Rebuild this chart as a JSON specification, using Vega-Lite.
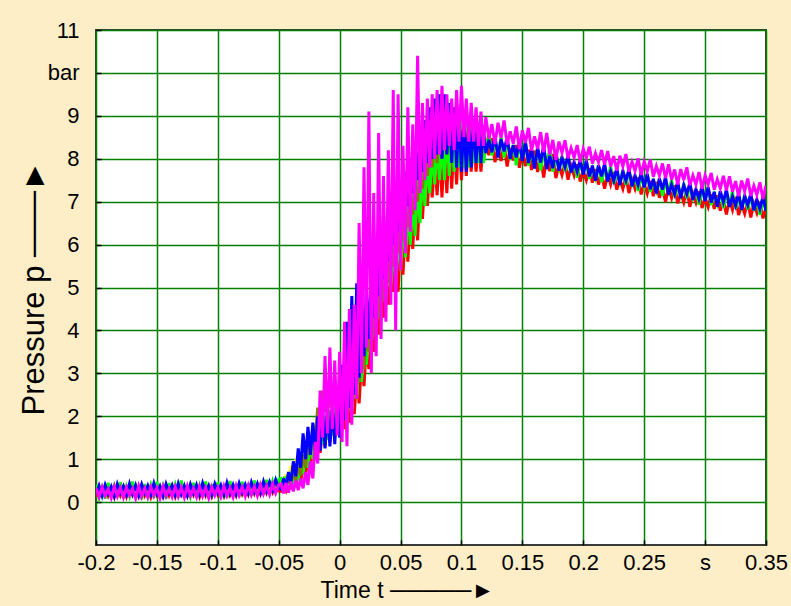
{
  "$schema": "https://vega.github.io/schema/vega-lite/v6.json",
  "width": 670,
  "height": 515,
  "autosize": {"type": "none"},
  "padding": {"left": 96, "top": 30, "right": 25, "bottom": 61},
  "background": "#FDEEC8",
  "data": {"values": [
    {"t":-0.2,"m":0.32,"b":0.18,"g":0.40,"r":0.12},
    {"t":-0.1975,"m":0.12,"b":0.38,"g":0.10,"r":0.34},
    {"t":-0.195,"m":0.35,"b":0.15,"g":0.33,"r":0.18},
    {"t":-0.1925,"m":0.15,"b":0.40,"g":0.08,"r":0.36},
    {"t":-0.19,"m":0.30,"b":0.20,"g":0.45,"r":0.15},
    {"t":-0.1875,"m":0.10,"b":0.36,"g":0.15,"r":0.33},
    {"t":-0.185,"m":0.36,"b":0.14,"g":0.38,"r":0.12},
    {"t":-0.1825,"m":0.14,"b":0.42,"g":0.12,"r":0.38},
    {"t":-0.18,"m":0.33,"b":0.22,"g":0.46,"r":0.16},
    {"t":-0.1775,"m":0.11,"b":0.37,"g":0.09,"r":0.35},
    {"t":-0.175,"m":0.34,"b":0.17,"g":0.36,"r":0.13},
    {"t":-0.1725,"m":0.16,"b":0.43,"g":0.14,"r":0.37},
    {"t":-0.17,"m":0.31,"b":0.19,"g":0.48,"r":0.17},
    {"t":-0.1675,"m":0.09,"b":0.39,"g":0.11,"r":0.32},
    {"t":-0.165,"m":0.37,"b":0.16,"g":0.35,"r":0.14},
    {"t":-0.1625,"m":0.13,"b":0.41,"g":0.07,"r":0.39},
    {"t":-0.16,"m":0.32,"b":0.21,"g":0.42,"r":0.16},
    {"t":-0.1575,"m":0.12,"b":0.38,"g":0.13,"r":0.34},
    {"t":-0.155,"m":0.35,"b":0.18,"g":0.39,"r":0.12},
    {"t":-0.1525,"m":0.15,"b":0.44,"g":0.10,"r":0.36},
    {"t":-0.15,"m":0.33,"b":0.20,"g":0.47,"r":0.17},
    {"t":-0.1475,"m":0.10,"b":0.37,"g":0.12,"r":0.33},
    {"t":-0.145,"m":0.36,"b":0.15,"g":0.37,"r":0.14},
    {"t":-0.1425,"m":0.14,"b":0.42,"g":0.08,"r":0.38},
    {"t":-0.14,"m":0.31,"b":0.22,"g":0.44,"r":0.16},
    {"t":-0.1375,"m":0.12,"b":0.39,"g":0.14,"r":0.35},
    {"t":-0.135,"m":0.35,"b":0.17,"g":0.40,"r":0.13},
    {"t":-0.1325,"m":0.13,"b":0.43,"g":0.11,"r":0.37},
    {"t":-0.13,"m":0.34,"b":0.19,"g":0.50,"r":0.18},
    {"t":-0.1275,"m":0.11,"b":0.38,"g":0.09,"r":0.33},
    {"t":-0.125,"m":0.37,"b":0.16,"g":0.36,"r":0.15},
    {"t":-0.1225,"m":0.15,"b":0.41,"g":0.13,"r":0.39},
    {"t":-0.12,"m":0.32,"b":0.21,"g":0.45,"r":0.17},
    {"t":-0.1175,"m":0.12,"b":0.40,"g":0.10,"r":0.34},
    {"t":-0.115,"m":0.36,"b":0.18,"g":0.38,"r":0.13},
    {"t":-0.1125,"m":0.14,"b":0.44,"g":0.12,"r":0.37},
    {"t":-0.11,"m":0.33,"b":0.20,"g":0.48,"r":0.16},
    {"t":-0.1075,"m":0.10,"b":0.38,"g":0.08,"r":0.35},
    {"t":-0.105,"m":0.35,"b":0.17,"g":0.41,"r":0.14},
    {"t":-0.1025,"m":0.16,"b":0.42,"g":0.14,"r":0.38},
    {"t":-0.1,"m":0.34,"b":0.22,"g":0.46,"r":0.18},
    {"t":-0.0975,"m":0.13,"b":0.39,"g":0.11,"r":0.34},
    {"t":-0.095,"m":0.37,"b":0.18,"g":0.39,"r":0.15},
    {"t":-0.0925,"m":0.15,"b":0.45,"g":0.10,"r":0.39},
    {"t":-0.09,"m":0.33,"b":0.21,"g":0.49,"r":0.17},
    {"t":-0.0875,"m":0.12,"b":0.40,"g":0.13,"r":0.35},
    {"t":-0.085,"m":0.38,"b":0.19,"g":0.42,"r":0.16},
    {"t":-0.0825,"m":0.16,"b":0.44,"g":0.12,"r":0.40},
    {"t":-0.08,"m":0.35,"b":0.23,"g":0.47,"r":0.19},
    {"t":-0.0775,"m":0.14,"b":0.41,"g":0.15,"r":0.36},
    {"t":-0.075,"m":0.39,"b":0.21,"g":0.43,"r":0.18},
    {"t":-0.0725,"m":0.17,"b":0.46,"g":0.14,"r":0.41},
    {"t":-0.07,"m":0.36,"b":0.24,"g":0.50,"r":0.20},
    {"t":-0.0675,"m":0.15,"b":0.43,"g":0.16,"r":0.38},
    {"t":-0.065,"m":0.40,"b":0.22,"g":0.45,"r":0.19},
    {"t":-0.0625,"m":0.19,"b":0.48,"g":0.17,"r":0.42},
    {"t":-0.06,"m":0.38,"b":0.26,"g":0.52,"r":0.22},
    {"t":-0.0575,"m":0.18,"b":0.47,"g":0.19,"r":0.40},
    {"t":-0.055,"m":0.42,"b":0.28,"g":0.48,"r":0.23},
    {"t":-0.0525,"m":0.21,"b":0.52,"g":0.22,"r":0.44},
    {"t":-0.05,"m":0.40,"b":0.32,"g":0.53,"r":0.26},
    {"t":-0.048,"m":0.42,"b":0.30,"g":0.55,"r":0.25,"y":0.45,"o":0.30},
    {"t":-0.046,"m":0.20,"b":0.55,"g":0.28,"r":0.45,"y":0.30,"o":0.50},
    {"t":-0.044,"m":0.45,"b":0.35,"g":0.60,"r":0.28,"y":0.65,"o":0.35},
    {"t":-0.042,"m":0.22,"b":0.70,"g":0.32,"r":0.50,"y":0.40,"o":0.60},
    {"t":-0.040,"m":0.48,"b":0.45,"g":0.70,"r":0.30,"y":0.85,"o":0.40},
    {"t":-0.038,"m":0.25,"b":0.95,"g":0.40,"r":0.60,"y":0.55,"o":0.75},
    {"t":-0.036,"m":0.50,"b":0.60,"g":0.85,"r":0.38,"y":1.00,"o":0.50},
    {"t":-0.034,"m":0.28,"b":1.25,"g":0.50,"r":0.72,"y":0.70,"o":0.90},
    {"t":-0.032,"m":0.55,"b":0.80,"g":1.00,"r":0.45,"y":1.15,"o":0.62},
    {"t":-0.030,"m":0.32,"b":1.60,"g":0.65,"r":0.90,"y":0.85,"o":1.10},
    {"t":-0.028,"m":0.70,"b":1.00,"g":1.20,"r":0.60,"y":1.30,"o":0.80},
    {"t":-0.026,"m":0.40,"b":1.75,"g":0.80,"r":1.10,"y":1.00,"o":1.40},
    {"t":-0.024,"m":0.95,"b":1.10,"g":1.45,"r":0.80,"y":1.50,"o":1.10},
    {"t":-0.022,"m":0.55,"b":1.85,"g":1.00,"r":1.30,"y":1.20,"o":1.80},
    {"t":-0.020,"m":1.40,"b":1.15,"g":1.70,"r":1.00,"y":1.65,"o":1.50},
    {"t":-0.018,"m":0.90,"b":2.00,"g":1.20,"r":1.50,"y":1.35,"o":2.20},
    {"t":-0.016,"m":2.60,"b":1.20,"g":1.85,"r":1.15,"y":1.80,"o":1.90},
    {"t":-0.014,"m":1.50,"b":2.10,"g":1.35,"r":1.70,"y":1.50,"o":2.60},
    {"t":-0.012,"m":3.40,"b":1.25,"g":2.00,"r":1.30,"y":1.95,"o":2.10},
    {"t":-0.010,"m":1.60,"b":2.20,"g":1.45,"r":1.85,"y":1.60,"o":2.80},
    {"t":-0.008,"m":3.60,"b":1.30,"g":2.15,"r":1.40,"y":2.05,"o":2.20},
    {"t":-0.006,"m":1.70,"b":2.25,"g":1.55,"r":2.00,"y":1.70,"o":2.70},
    {"t":-0.004,"m":3.30,"b":1.35,"g":2.25,"r":1.50,"y":2.10,"o":2.30},
    {"t":-0.002,"m":1.55,"b":2.40,"g":1.65,"r":2.10,"y":1.80,"o":2.60},
    {"t":0.000,"m":3.50,"b":1.50,"g":2.35,"r":1.60,"y":2.25,"o":2.20},
    {"t":0.002,"m":1.40,"b":3.20,"g":1.75,"r":2.20,"y":1.90,"o":2.50},
    {"t":0.004,"m":4.20,"b":1.90,"g":2.50,"r":1.70,"y":2.40,"o":2.10},
    {"t":0.006,"m":1.30,"b":4.20,"g":1.85,"r":2.35,"y":2.00,"o":2.60},
    {"t":0.008,"m":4.50,"b":2.20,"g":2.70,"r":1.85,"y":2.60,"o":2.30},
    {"t":0.010,"m":1.80,"b":4.80,"g":2.10,"r":2.60,"y":2.20,"o":2.90},
    {"t":0.012,"m":4.60,"b":2.50,"g":3.00,"r":2.05,"y":2.90,"o":2.50},
    {"t":0.014,"m":2.40,"b":5.10,"g":2.40,"r":2.90,"y":2.50,"o":3.20},
    {"t":0.016,"m":6.50,"b":2.90,"g":3.40,"r":2.30,"y":3.30,"o":2.80},
    {"t":0.018,"m":3.00,"b":4.90,"g":2.80,"r":3.30,"y":2.90,"o":3.60},
    {"t":0.020,"m":7.80,"b":3.40,"g":3.80,"r":2.70,"y":3.70,"o":3.10},
    {"t":0.022,"m":3.60,"b":5.00,"g":3.20,"r":3.70,"y":3.30,"o":4.00},
    {"t":0.024,"m":9.10,"b":3.80,"g":4.30,"r":3.10,"y":4.10,"o":3.50},
    {"t":0.026,"m":3.00,"b":5.30,"g":3.60,"r":4.10,"y":3.70,"o":4.40},
    {"t":0.028,"m":7.20,"b":4.30,"g":4.70,"r":3.50,"y":4.60,"o":3.90},
    {"t":0.030,"m":3.40,"b":5.80,"g":4.00,"r":4.50,"y":4.10,"o":4.80},
    {"t":0.032,"m":8.60,"b":4.80,"g":5.10,"r":3.90,"y":5.00,"o":4.30},
    {"t":0.034,"m":3.80,"b":6.20,"g":4.40,"r":4.90,"y":4.50,"o":5.20},
    {"t":0.036,"m":7.60,"b":5.20,"g":5.40,"r":4.30,"y":5.30,"o":4.70},
    {"t":0.038,"m":4.20,"b":6.50,"g":4.70,"r":5.20,"y":4.80,"o":5.60},
    {"t":0.040,"m":8.20,"b":5.60,"g":5.70,"r":4.60,"y":5.60,"o":5.10},
    {"t":0.042,"m":4.60,"b":6.80,"g":5.00,"r":5.50,"y":5.10,"o":5.90},
    {"t":0.044,"m":9.60,"b":6.00,"g":6.00,"r":4.90,"y":5.90,"o":5.50},
    {"t":0.046,"m":4.00,"b":7.10,"g":5.10,"r":5.80,"y":5.30,"o":6.20},
    {"t":0.048,"m":9.50,"b":6.30,"g":6.30,"r":4.90,"y":6.10,"o":5.80},
    {"t":0.050,"m":5.40,"b":7.40,"g":5.40,"r":6.10,"y":5.60,"o":6.50},
    {"t":0.052,"m":8.30,"b":6.60,"g":6.60,"r":5.30,"y":6.40,"o":6.10},
    {"t":0.054,"m":5.80,"b":7.70,"g":5.70,"r":6.40,"y":5.90,"o":6.80},
    {"t":0.056,"m":9.20,"b":6.90,"g":6.90,"r":5.60,"y":6.70,"o":6.40},
    {"t":0.058,"m":6.30,"b":8.00,"g":6.00,"r":6.70,"y":6.20,"o":7.10},
    {"t":0.060,"m":8.80,"b":7.20,"g":7.20,"r":5.90,"y":7.00,"o":6.70},
    {"t":0.062,"m":6.80,"b":8.30,"g":6.20,"r":7.00,"y":6.50,"o":7.40},
    {"t":0.064,"m":10.40,"b":7.50,"g":7.50,"r":6.10,"y":7.30,"o":7.00},
    {"t":0.066,"m":7.20,"b":8.60,"g":6.50,"r":7.30,"y":6.80,"o":7.70},
    {"t":0.068,"m":9.30,"b":7.70,"g":7.80,"r":6.60,"y":7.50,"o":7.30},
    {"t":0.070,"m":7.50,"b":8.90,"g":6.90,"r":7.60,"y":7.10,"o":8.00},
    {"t":0.072,"m":9.40,"b":7.90,"g":8.10,"r":6.90,"y":7.80,"o":7.60},
    {"t":0.074,"m":7.80,"b":9.20,"g":7.20,"r":7.80,"y":7.40,"o":8.20},
    {"t":0.076,"m":9.50,"b":8.00,"g":8.30,"r":7.10,"y":8.00,"o":7.80},
    {"t":0.078,"m":8.00,"b":9.40,"g":7.40,"r":8.00,"y":7.60,"o":8.40},
    {"t":0.080,"m":9.60,"b":8.10,"g":8.50,"r":7.15,"y":8.20,"o":7.90},
    {"t":0.082,"m":8.10,"b":9.50,"g":7.50,"r":8.20,"y":7.70,"o":8.60},
    {"t":0.084,"m":9.70,"b":8.00,"g":8.60,"r":7.10,"y":8.30,"o":8.00},
    {"t":0.086,"m":8.20,"b":9.50,"g":7.50,"r":8.30,"y":7.80,"o":8.70},
    {"t":0.088,"m":9.50,"b":8.10,"g":8.70,"r":7.20,"y":8.40,"o":8.10},
    {"t":0.090,"m":8.30,"b":9.30,"g":7.60,"r":8.40,"y":7.90,"o":8.80},
    {"t":0.092,"m":9.40,"b":7.90,"g":8.80,"r":7.30,"y":8.50,"o":8.20},
    {"t":0.094,"m":8.20,"b":9.20,"g":7.70,"r":8.50,"y":8.00,"o":8.90},
    {"t":0.096,"m":9.60,"b":7.80,"g":8.90,"r":7.40,"y":8.60,"o":8.30},
    {"t":0.098,"m":8.40,"b":9.10,"g":7.80,"r":8.60,"y":8.00,"o":8.90},
    {"t":0.100,"m":9.70,"b":7.70,"g":9.00,"r":7.50,"y":8.60,"o":8.30},
    {"t":0.102,"m":8.50,"b":8.90,"g":7.80,"r":8.60,"y":8.00,"o":8.80},
    {"t":0.104,"m":9.40,"b":7.70,"g":8.90,"r":7.60,"y":8.50,"o":8.20},
    {"t":0.106,"m":8.40,"b":8.80,"g":7.80,"r":8.60,"y":8.00,"o":8.80},
    {"t":0.108,"m":9.30,"b":7.80,"g":8.90,"r":7.70,"y":8.50,"o":8.20},
    {"t":0.110,"m":8.40,"b":8.90,"g":7.90,"r":8.50,"y":8.00,"o":8.70},
    {"t":0.112,"m":9.20,"b":7.90,"g":8.80,"r":7.70,"y":8.40,"o":8.10},
    {"t":0.114,"m":8.30,"b":8.80,"g":7.90,"r":8.50,"y":7.90,"o":8.60},
    {"t":0.116,"m":9.10,"b":7.90,"g":8.70,"r":7.70,"y":8.30,"o":8.10},
    {"t":0.118,"m":8.30,"b":8.70,"g":7.90,"r":8.40,"y":7.90,"o":8.50},
    {"t":0.12,"m":8.97,"b":8.13,"g":8.25,"r":8.43},
    {"t":0.1225,"m":8.47,"b":8.44,"g":8.61,"r":8.08},
    {"t":0.125,"m":8.81,"b":8.15,"g":8.08,"r":8.48},
    {"t":0.1275,"m":8.34,"b":8.55,"g":8.40,"r":7.92},
    {"t":0.13,"m":8.84,"b":8.03,"g":8.12,"r":8.24},
    {"t":0.1325,"m":8.49,"b":8.46,"g":8.50,"r":7.95},
    {"t":0.135,"m":8.89,"b":8.17,"g":8.03,"r":8.35},
    {"t":0.1375,"m":8.33,"b":8.52,"g":8.48,"r":7.82},
    {"t":0.14,"m":8.64,"b":8.00,"g":7.98,"r":8.25},
    {"t":0.1425,"m":8.35,"b":8.32,"g":8.32,"r":7.96},
    {"t":0.145,"m":8.75,"b":8.03,"g":7.85,"r":8.32},
    {"t":0.1475,"m":8.22,"b":8.42,"g":8.34,"r":7.79},
    {"t":0.15,"m":8.66,"b":7.95,"g":8.00,"r":8.12},
    {"t":0.1525,"m":8.37,"b":8.40,"g":8.40,"r":7.83},
    {"t":0.155,"m":8.72,"b":7.90,"g":7.84,"r":8.21},
    {"t":0.1575,"m":8.19,"b":8.24,"g":8.15,"r":7.74},
    {"t":0.16,"m":8.52,"b":7.77,"g":7.86,"r":8.19},
    {"t":0.1625,"m":8.23,"b":8.26,"g":8.26,"r":7.69},
    {"t":0.165,"m":8.62,"b":7.91,"g":7.73,"r":8.03},
    {"t":0.1675,"m":8.15,"b":8.31,"g":8.16,"r":7.56},
    {"t":0.17,"m":8.60,"b":7.76,"g":7.88,"r":8.06},
    {"t":0.1725,"m":8.10,"b":8.07,"g":8.23,"r":7.71},
    {"t":0.175,"m":8.44,"b":7.78,"g":7.70,"r":8.11},
    {"t":0.1775,"m":7.97,"b":8.18,"g":8.03,"r":7.55},
    {"t":0.18,"m":8.40,"b":7.72,"g":7.78,"r":7.84},
    {"t":0.1825,"m":8.14,"b":8.03,"g":8.06,"r":7.62},
    {"t":0.185,"m":8.43,"b":7.81,"g":7.71,"r":7.91},
    {"t":0.1875,"m":8.01,"b":8.07,"g":8.03,"r":7.51},
    {"t":0.19,"m":8.25,"b":7.68,"g":7.67,"r":7.83},
    {"t":0.1925,"m":8.03,"b":7.92,"g":7.91,"r":7.61},
    {"t":0.195,"m":8.32,"b":7.70,"g":7.56,"r":7.87},
    {"t":0.1975,"m":7.92,"b":7.98,"g":7.91,"r":7.47},
    {"t":0.2,"m":8.23,"b":7.63,"g":7.65,"r":7.71},
    {"t":0.2025,"m":8.02,"b":7.96,"g":7.95,"r":7.50},
    {"t":0.205,"m":8.28,"b":7.59,"g":7.53,"r":7.78},
    {"t":0.2075,"m":7.89,"b":7.84,"g":7.77,"r":7.44},
    {"t":0.21,"m":8.13,"b":7.49,"g":7.55,"r":7.76},
    {"t":0.2125,"m":7.92,"b":7.85,"g":7.85,"r":7.40},
    {"t":0.215,"m":8.20,"b":7.59,"g":7.45,"r":7.64},
    {"t":0.2175,"m":7.86,"b":7.89,"g":7.77,"r":7.30},
    {"t":0.22,"m":8.18,"b":7.47,"g":7.55,"r":7.65},
    {"t":0.2225,"m":7.82,"b":7.71,"g":7.82,"r":7.40},
    {"t":0.225,"m":8.06,"b":7.49,"g":7.42,"r":7.69},
    {"t":0.2275,"m":7.72,"b":7.79,"g":7.67,"r":7.28},
    {"t":0.23,"m":8.07,"b":7.39,"g":7.45,"r":7.51},
    {"t":0.2325,"m":7.82,"b":7.71,"g":7.74,"r":7.30},
    {"t":0.235,"m":8.11,"b":7.49,"g":7.39,"r":7.59},
    {"t":0.2375,"m":7.70,"b":7.76,"g":7.72,"r":7.20},
    {"t":0.24,"m":7.93,"b":7.36,"g":7.35,"r":7.51},
    {"t":0.2425,"m":7.72,"b":7.61,"g":7.60,"r":7.30},
    {"t":0.245,"m":8.01,"b":7.39,"g":7.25,"r":7.56},
    {"t":0.2475,"m":7.62,"b":7.68,"g":7.61,"r":7.17},
    {"t":0.25,"m":7.93,"b":7.33,"g":7.35,"r":7.41},
    {"t":0.2525,"m":7.71,"b":7.65,"g":7.64,"r":7.19},
    {"t":0.255,"m":7.98,"b":7.29,"g":7.23,"r":7.48},
    {"t":0.2575,"m":7.58,"b":7.53,"g":7.46,"r":7.13},
    {"t":0.26,"m":7.83,"b":7.19,"g":7.25,"r":7.46},
    {"t":0.2625,"m":7.61,"b":7.54,"g":7.54,"r":7.09},
    {"t":0.265,"m":7.89,"b":7.28,"g":7.14,"r":7.33},
    {"t":0.2675,"m":7.55,"b":7.58,"g":7.46,"r":6.99},
    {"t":0.27,"m":7.87,"b":7.16,"g":7.24,"r":7.34},
    {"t":0.2725,"m":7.51,"b":7.40,"g":7.51,"r":7.09},
    {"t":0.275,"m":7.75,"b":7.18,"g":7.11,"r":7.38},
    {"t":0.2775,"m":7.40,"b":7.47,"g":7.35,"r":6.96},
    {"t":0.28,"m":7.76,"b":7.08,"g":7.14,"r":7.20},
    {"t":0.2825,"m":7.50,"b":7.39,"g":7.42,"r":6.98},
    {"t":0.285,"m":7.80,"b":7.18,"g":7.08,"r":7.28},
    {"t":0.2875,"m":7.38,"b":7.44,"g":7.40,"r":6.88},
    {"t":0.29,"m":7.61,"b":7.04,"g":7.03,"r":7.19},
    {"t":0.2925,"m":7.40,"b":7.29,"g":7.28,"r":6.98},
    {"t":0.295,"m":7.69,"b":7.07,"g":6.93,"r":7.24},
    {"t":0.2975,"m":7.30,"b":7.36,"g":7.29,"r":6.85},
    {"t":0.3,"m":7.61,"b":7.01,"g":7.03,"r":7.09},
    {"t":0.3025,"m":7.40,"b":7.34,"g":7.33,"r":6.88},
    {"t":0.305,"m":7.67,"b":6.98,"g":6.92,"r":7.17},
    {"t":0.3075,"m":7.28,"b":7.23,"g":7.16,"r":6.83},
    {"t":0.31,"m":7.52,"b":6.88,"g":6.94,"r":7.15},
    {"t":0.3125,"m":7.31,"b":7.24,"g":7.24,"r":6.79},
    {"t":0.315,"m":7.60,"b":6.99,"g":6.85,"r":7.04},
    {"t":0.3175,"m":7.26,"b":7.29,"g":7.17,"r":6.70},
    {"t":0.32,"m":7.59,"b":6.88,"g":6.96,"r":7.06},
    {"t":0.3225,"m":7.23,"b":7.12,"g":7.23,"r":6.81},
    {"t":0.325,"m":7.48,"b":6.91,"g":6.84,"r":7.11},
    {"t":0.3275,"m":7.13,"b":7.20,"g":7.08,"r":6.69},
    {"t":0.33,"m":7.49,"b":6.81,"g":6.87,"r":6.93},
    {"t":0.3325,"m":7.24,"b":7.13,"g":7.16,"r":6.72},
    {"t":0.335,"m":7.54,"b":6.92,"g":6.82,"r":7.02},
    {"t":0.3375,"m":7.13,"b":7.19,"g":7.15,"r":6.63},
    {"t":0.34,"m":7.37,"b":6.80,"g":6.79,"r":6.95},
    {"t":0.3425,"m":7.16,"b":7.05,"g":7.04,"r":6.74},
    {"t":0.345,"m":7.45,"b":6.83,"g":6.69,"r":7.00},
    {"t":0.3475,"m":7.06,"b":7.12,"g":7.05,"r":6.61},
    {"t":0.35,"m":7.38,"b":6.78,"g":6.80,"r":6.86}
  ]},
  "transform": [
    {"fold": ["r", "y", "g", "o", "b", "m"], "as": ["series", "p"]},
    {"filter": "isValid(datum.p)"}
  ],
  "encoding": {
    "x": {
      "field": "t", "type": "quantitative",
      "scale": {"domain": [-0.2, 0.35], "nice": false, "zero": false},
      "axis": {
        "values": [-0.2, -0.15, -0.1, -0.05, 0, 0.05, 0.1, 0.15, 0.2, 0.25, 0.3, 0.35],
        "format": "~g",
        "labelExpr": "abs(datum.value - 0.3) < 0.001 ? 's' : replace(datum.label, '\u2212', '-')",
        "labelPadding": 12,
        "labelFlush": false,
        "labelOverlap": false,
        "labelBound": false,
        "title": "Time t ─────►",
        "titleFontSize": 23,
        "titleAlign": "left",
        "titleBaseline": "alphabetic",
        "titleX": 224,
        "titleY": 52
      }
    },
    "y": {
      "field": "p", "type": "quantitative",
      "scale": {"domain": [-1, 11], "nice": false, "zero": false},
      "axis": {
        "values": [0, 1, 2, 3, 4, 5, 6, 7, 8, 9, 10, 11],
        "labelExpr": "datum.value == 10 ? 'bar' : datum.label",
        "labelPadding": 22,
        "labelOverlap": false,
        "labelBound": false,
        "title": "Pressure p ───►",
        "titleFontSize": 31,
        "titleAngle": 270,
        "titleAlign": "left",
        "titleBaseline": "alphabetic",
        "titleX": -53,
        "titleY": 385
      }
    },
    "color": {
      "field": "series", "type": "nominal",
      "scale": {
        "domain": ["r", "y", "g", "o", "b", "m"],
        "range": ["#FF0000", "#FFFF00", "#00FF00", "#808000", "#0000FF", "#FF00FF"]
      },
      "legend": null
    }
  },
  "layer": [
    {"transform": [{"filter": "datum.series == 'r'"}], "mark": {"type": "line", "strokeWidth": 3, "clip": true}},
    {"transform": [{"filter": "datum.series == 'y'"}], "mark": {"type": "line", "strokeWidth": 3, "clip": true}},
    {"transform": [{"filter": "datum.series == 'g'"}], "mark": {"type": "line", "strokeWidth": 3, "clip": true}},
    {"transform": [{"filter": "datum.series == 'o'"}], "mark": {"type": "line", "strokeWidth": 3, "clip": true}},
    {"transform": [{"filter": "datum.series == 'b'"}], "mark": {"type": "line", "strokeWidth": 3, "clip": true}},
    {"transform": [{"filter": "datum.series == 'm'"}], "mark": {"type": "line", "strokeWidth": 3, "clip": true}}
  ],
  "config": {
    "view": {"fill": "white", "stroke": "#3a3a3a", "strokeWidth": 2},
    "axis": {
      "labelFont": "Liberation Sans",
      "labelFontSize": 22,
      "labelColor": "#000000",
      "titleFont": "Liberation Sans",
      "titleFontWeight": "normal",
      "titleColor": "#000000",
      "grid": true,
      "gridColor": "#008000",
      "gridWidth": 1.5,
      "gridOpacity": 1,
      "domain": false,
      "ticks": true,
      "tickColor": "#000000",
      "tickSize": -5,
      "tickWidth": 1.5
    }
  }
}
